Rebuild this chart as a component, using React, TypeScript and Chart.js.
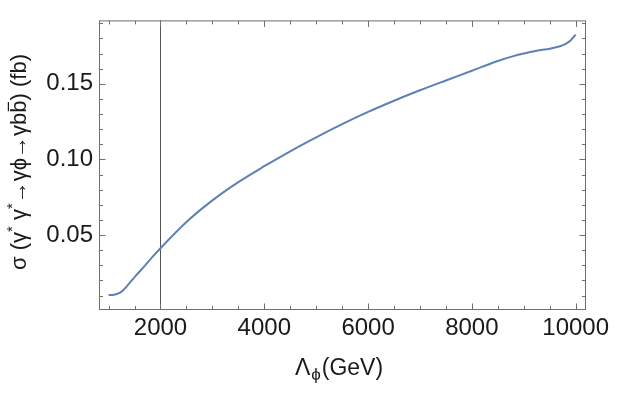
import React, { useEffect, useRef } from "react";
import { Chart, registerables } from "chart.js";

Chart.register(...registerables);

// ---- data ----
const lambdaGeV = [1000, 1080, 1160, 1250, 1350, 1500, 1700, 1850, 2000, 2500, 3000, 3500, 4000, 4500, 5000, 5500, 6000, 6500, 7000, 7500, 8000, 8500, 8800, 9000, 9300, 9500, 9700, 9800, 9900, 10000];
const sigmaFb = [0.0103, 0.0104, 0.0110, 0.0126, 0.0161, 0.0222, 0.0298, 0.0357, 0.0413, 0.0586, 0.0729, 0.0850, 0.0955, 0.1054, 0.1146, 0.1233, 0.1314, 0.1388, 0.1457, 0.1522, 0.1586, 0.1651, 0.1683, 0.1700, 0.1721, 0.1732, 0.1748, 0.1762, 0.1786, 0.1825];
const markerLambda = 2000;

const xTickValues = [2000, 4000, 6000, 8000, 10000];
const yTickValues = [0.05, 0.1, 0.15];
const xMinorValues = [1000, 1500, 2500, 3000, 3500, 4500, 5000, 5500, 6500, 7000, 7500, 8500, 9000, 9500];
const yMinorValues = [0.01, 0.02, 0.03, 0.04, 0.06, 0.07, 0.08, 0.09, 0.11, 0.12, 0.13, 0.14, 0.16, 0.17, 0.18, 0.19];

const xRange = [815, 10180];
const yRange = [0.00112, 0.1919];

const xTitle = { main: "Λ", sub: "ϕ", unit: "(GeV)" };
const yTitleParts = [
  { t: "σ (γ", kind: "n" },
  { t: "*", kind: "sup" },
  { t: " γ", kind: "n" },
  { t: "*", kind: "sup" },
  { t: "→γϕ→γb", kind: "n" },
  { t: "b", kind: "bar" },
  { t: ") (fb)", kind: "n" },
];

const FONT = "'Liberation Sans', Arial, sans-serif";
const FRAME = "#6e6e6e";
const TEXT = "#1a1a1a";
const LINE = "#5E81B5";

const framePlugin = {
  id: "mmaFrame",
  beforeDatasetsDraw(chart: any) {
    const { ctx, chartArea: a, scales } = chart;
    const x = scales.x.getPixelForValue(markerLambda);
    ctx.save();
    ctx.strokeStyle = "#555555";
    ctx.lineWidth = 1;
    ctx.beginPath();
    ctx.moveTo(Math.round(x) + 0.5, a.top);
    ctx.lineTo(Math.round(x) + 0.5, a.bottom);
    ctx.stroke();
    ctx.restore();
  },
  afterDraw(chart: any) {
    const { ctx, chartArea: a, scales } = chart;
    ctx.save();
    ctx.strokeStyle = FRAME;
    ctx.lineWidth = 1;
    const L = a.left + 0.5, R = a.right + 0.5, T = a.top + 0.5, B = a.bottom + 0.5;
    ctx.strokeRect(L, T, R - L, B - T);
    const major = 6, minor = 3.5;
    ctx.beginPath();
    const xt = (v: number, len: number) => {
      const p = Math.round(scales.x.getPixelForValue(v)) + 0.5;
      ctx.moveTo(p, B); ctx.lineTo(p, B - len);
      ctx.moveTo(p, T); ctx.lineTo(p, T + len);
    };
    const yt = (v: number, len: number) => {
      const p = Math.round(scales.y.getPixelForValue(v)) + 0.5;
      ctx.moveTo(L, p); ctx.lineTo(L + len, p);
      ctx.moveTo(R, p); ctx.lineTo(R - len, p);
    };
    xTickValues.forEach((v) => xt(v, major));
    xMinorValues.forEach((v) => xt(v, minor));
    yTickValues.forEach((v) => yt(v, major));
    yMinorValues.forEach((v) => yt(v, minor));
    ctx.stroke();

    // x title
    ctx.fillStyle = TEXT;
    ctx.textBaseline = "alphabetic";
    ctx.textAlign = "left";
    const fMain = `23px ${FONT}`;
    const fSub = `17px ${FONT}`;
    ctx.font = fMain;
    const wM = ctx.measureText(xTitle.main).width;
    const wU = ctx.measureText(xTitle.unit).width;
    ctx.font = fSub;
    const wS = ctx.measureText(xTitle.sub).width;
    const total = wM + wS + wU + 2;
    const cx = 339;
    let px = cx - total / 2;
    const base = 374.5;
    ctx.font = fMain;
    ctx.fillText(xTitle.main, px, base);
    px += wM + 1;
    ctx.font = fSub;
    ctx.fillText(xTitle.sub, px, base + 5);
    px += wS + 1;
    ctx.font = fMain;
    ctx.fillText(xTitle.unit, px, base);

    // y title (rotated)
    const fs = 22;
    const fN = `${fs}px ${FONT}`;
    const fSup = `${Math.round(fs * 0.7)}px ${FONT}`;
    const widths = yTitleParts.map((p) => {
      ctx.font = p.kind === "sup" ? fSup : fN;
      return ctx.measureText(p.t).width;
    });
    const tw = widths.reduce((s, w) => s + w, 0);
    ctx.translate(26, 162);
    ctx.rotate(-Math.PI / 2);
    let qx = -tw / 2;
    yTitleParts.forEach((p, i) => {
      ctx.font = p.kind === "sup" ? fSup : fN;
      const dy = p.kind === "sup" ? -fs * 0.42 : 0;
      ctx.fillText(p.t, qx, dy);
      if (p.kind === "bar") {
        ctx.strokeStyle = TEXT;
        ctx.lineWidth = 1.2;
        ctx.beginPath();
        ctx.moveTo(qx + 1.5, -fs * 0.8);
        ctx.lineTo(qx + widths[i] - 1.5, -fs * 0.8);
        ctx.stroke();
      }
      qx += widths[i];
    });
    ctx.restore();
  },
};

export default function App() {
  const ref = useRef<HTMLCanvasElement>(null);
  useEffect(() => {
    document.body.style.margin = "0";
    const canvas = ref.current!;
    const chart = new Chart(canvas, {
      type: "line",
      data: {
        datasets: [
          {
            data: lambdaGeV.map((x, i) => ({ x, y: sigmaFb[i] })),
            borderColor: LINE,
            borderWidth: 2,
            pointRadius: 0,
            fill: false,
            cubicInterpolationMode: "monotone",
          },
        ],
      },
      options: {
        animation: false,
        responsive: false,
        devicePixelRatio: 1,
        layout: { padding: { left: 0, right: 43, top: 19, bottom: 0 } },
        plugins: { legend: { display: false }, tooltip: { enabled: false } },
        scales: {
          x: {
            type: "linear",
            min: xRange[0],
            max: xRange[1],
            grid: { display: false, drawTicks: false },
            border: { display: false },
            afterBuildTicks: (s: any) => {
              s.ticks = xTickValues.map((value) => ({ value }));
            },
            afterFit: (s: any) => {
              s.height = 84;
            },
            ticks: {
              padding: 5,
              maxRotation: 0,
              autoSkip: false,
              color: TEXT,
              font: { family: FONT, size: 24 },
              callback: (v: any) => String(v),
            },
          },
          y: {
            type: "linear",
            min: yRange[0],
            max: yRange[1],
            grid: { display: false, drawTicks: false },
            border: { display: false },
            afterBuildTicks: (s: any) => {
              s.ticks = yTickValues.map((value) => ({ value }));
            },
            afterFit: (s: any) => {
              s.width = 99;
            },
            ticks: {
              padding: 6,
              color: TEXT,
              font: { family: FONT, size: 24 },
              callback: (v: any) => Number(v).toFixed(2),
            },
          },
        },
      },
      plugins: [framePlugin],
    } as any);
    return () => chart.destroy();
  }, []);
  return (
    <div style={{ position: "absolute", left: 0, top: 0, width: 628, height: 393, background: "#fff" }}>
      <canvas ref={ref} width={628} height={393} />
    </div>
  );
}
